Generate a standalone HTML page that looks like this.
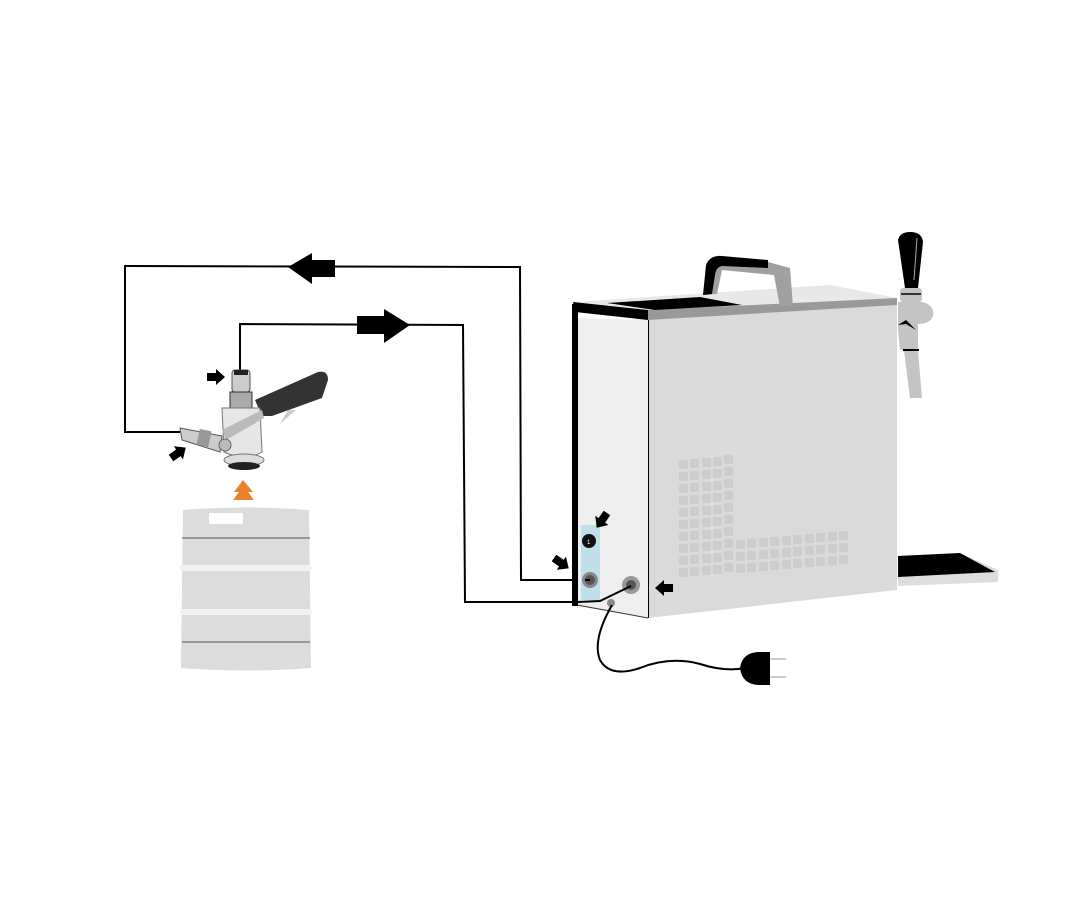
<!DOCTYPE html>
<html><head><meta charset="utf-8"><style>html,body{margin:0;padding:0;background:#fff}svg{display:block}</style></head>
<body>
<svg width="1080" height="900" viewBox="0 0 1080 900" xmlns="http://www.w3.org/2000/svg">
<defs>
<g id="sarr"><polygon points="0,-4 9,-4 9,-8 18,0 9,8 9,4 0,4" fill="#000"/></g>
<g id="col">
<rect x="0" y="0" width="9" height="9" rx="2"/><rect x="0" y="12" width="9" height="9" rx="2"/>
<rect x="0" y="24" width="9" height="9" rx="2"/><rect x="0" y="36" width="9" height="9" rx="2"/>
<rect x="0" y="48" width="9" height="9" rx="2"/><rect x="0" y="60" width="9" height="9" rx="2"/>
<rect x="0" y="72" width="9" height="9" rx="2"/><rect x="0" y="84" width="9" height="9" rx="2"/>
<rect x="0" y="96" width="9" height="9" rx="2"/><rect x="0" y="108" width="9" height="9" rx="2"/>
</g>
<g id="rows3">
<rect x="0" y="0" width="9" height="9" rx="2"/><rect x="0" y="12" width="9" height="9" rx="2"/><rect x="0" y="24" width="9" height="9" rx="2"/>
</g>
</defs>
<!-- pipes -->
<g fill="none" stroke="#000" stroke-width="2">
<polyline points="180,432 125,432 125,266 520,267 521,580 585,580"/>
<polyline points="240,372 240,324 463,325 465,602 578,602"/>
</g>
<polygon points="288,267 312,253 312,260 335,260 335,277 312,277 312,284" fill="#000"/>
<polygon points="410,325 384,309 384,316 357,316 357,334 384,334 384,343" fill="#000"/>

<!-- keg -->
<path d="M183,510 Q245,505 309,510 L311,668 Q245,673 181,668 Z" fill="#dcdcdc"/>
<rect x="209" y="513" width="34" height="11" rx="2" fill="#fff"/>
<rect x="182" y="537" width="128" height="2" fill="#999"/>
<rect x="180" y="565" width="132" height="6" rx="3" fill="#f2f2f2"/>
<rect x="180" y="609" width="132" height="6" rx="3" fill="#f2f2f2"/>
<rect x="182" y="641" width="128" height="2" fill="#999"/>
<polygon points="243,480 253,492 248,492 254,500 233,500 239,492 234,492" fill="#e8832a"/>

<!-- coupler -->
<g>
<path d="M255,400 L318,372 Q328,370 328,380 L322,398 L272,416 L262,416 Z" fill="#333"/>
<path d="M288,410 L280,424 L296,410 Z" fill="#ccc"/>
<rect x="232" y="370" width="18" height="22" rx="3" fill="#ccc" stroke="#555" stroke-width="1"/>
<rect x="234" y="370" width="14" height="5" fill="#222"/>
<rect x="230" y="392" width="22" height="16" fill="#aaa" stroke="#333" stroke-width="1"/>
<path d="M222,408 L260,408 L262,452 Q245,462 224,452 Z" fill="#e6e6e6" stroke="#777" stroke-width="1"/>
<path d="M222,430 L262,410 L264,418 L226,440 Z" fill="#bbb"/>
<path d="M180,428 L222,436 L220,452 L182,440 Z" fill="#ccc" stroke="#555" stroke-width="1"/>
<rect x="198" y="430" width="12" height="16" fill="#999" transform="rotate(12 204 438)"/>
<circle cx="225" cy="445" r="6" fill="#bbb" stroke="#666"/>
<ellipse cx="244" cy="460" rx="20" ry="6" fill="#ddd" stroke="#777"/>
<ellipse cx="244" cy="466" rx="16" ry="4" fill="#222"/>
</g>
<use href="#sarr" x="207" y="377"/>
<use href="#sarr" transform="translate(171,458) rotate(-35)"/>

<!-- drip tray -->
<polygon points="898,556 960,553 998,570 998,582 898,586" fill="#ddd"/>
<polygon points="898,556 960,553 995,572 898,577" fill="#000"/>
<!-- side -->
<polygon points="648,318 897,302 897,590 648,618" fill="#dadada"/>
<line x1="648" y1="320" x2="648" y2="618" stroke="#000" stroke-width="2"/>
<polygon points="576,318 648,320 648,618 577,606" fill="#efefef"/>
<line x1="648" y1="618" x2="577" y2="605" stroke="#333" stroke-width="1"/>
<rect x="572" y="304" width="6" height="302" fill="#000"/>
<!-- top -->
<polygon points="573,302 830,285 897,298 648,310" fill="#e8e8e8"/>
<polygon points="648,310 897,298 897,305 648,320" fill="#999"/>
<polygon points="573,302 648,310 648,320 575,312" fill="#000"/>
<polygon points="607,303 700,297 742,305 655,310" fill="#000"/>
<!-- handle -->
<path d="M703,295 L708,265 Q712,257 722,258 L768,262 L790,268 L793,306 L780,307 L774,275 L722,270 L717,294 Z" fill="#a0a0a0"/>
<path d="M703,295 L706,265 Q710,255 722,256 L768,260 L768,268 L722,266 Q716,267 715,275 L712,294 Z" fill="#000"/>
<!-- vents -->
<g fill="#cdcdcd">
<use href="#col" x="679" y="460"/><use href="#col" x="690" y="459"/><use href="#col" x="702" y="458"/>
<use href="#col" x="713" y="457"/><use href="#col" x="724" y="455"/>
<use href="#rows3" x="736" y="540"/><use href="#rows3" x="747" y="539"/><use href="#rows3" x="759" y="538"/>
<use href="#rows3" x="770" y="537"/><use href="#rows3" x="782" y="536"/><use href="#rows3" x="793" y="535"/>
<use href="#rows3" x="805" y="534"/><use href="#rows3" x="816" y="533"/><use href="#rows3" x="828" y="532"/>
<use href="#rows3" x="839" y="531"/>
</g>
<!-- back panel ports -->
<rect x="581" y="525" width="19" height="75" fill="#bfe0ea"/>
<circle cx="589" cy="541" r="7" fill="#111"/>
<text x="587" y="544" font-family="Liberation Sans, sans-serif" font-size="6" fill="#fff">1</text>
<circle cx="590" cy="580" r="8" fill="#888"/><circle cx="590" cy="580" r="5" fill="#555"/>
<circle cx="631" cy="585" r="9" fill="#999"/><circle cx="631" cy="585" r="5" fill="#555"/>
<circle cx="611" cy="603" r="4" fill="#888"/>
<polyline points="631,586 600,601 578,602" fill="none" stroke="#000" stroke-width="2"/>
<line x1="585" y1="580" x2="590" y2="580" stroke="#000" stroke-width="2"/>
<use href="#sarr" transform="translate(607,513) rotate(125)"/>
<use href="#sarr" transform="translate(554,558) rotate(35)"/>
<use href="#sarr" transform="translate(673,588) rotate(180)"/>
<!-- cord -->
<path d="M612,605 Q592,640 600,660 Q610,678 640,668 Q670,656 700,664 Q725,672 745,668" fill="none" stroke="#000" stroke-width="2"/>
<path d="M740,668 Q742,653 758,652 L770,652 L770,685 L758,685 Q742,684 740,668 Z" fill="#000"/>
<rect x="770" y="658" width="16" height="2" fill="#ccc"/><rect x="770" y="676" width="16" height="2" fill="#ccc"/>
<!-- tap -->
<path d="M898,240 Q900,232 910,232 Q922,232 923,242 L918,288 L905,288 Z" fill="#000"/>
<line x1="917" y1="238" x2="914" y2="280" stroke="#aaa" stroke-width="1"/>
<rect x="900" y="288" width="22" height="14" rx="3" fill="#c4c4c4"/>
<rect x="901" y="293" width="20" height="2" fill="#333"/>
<path d="M898,302 L922,302 Q935,305 933,316 Q930,324 918,324 L918,350 L900,350 L898,330 Z" fill="#c4c4c4"/>
<path d="M898,325 L906,320 L916,330 L906,324 Z" fill="#000"/>
<path d="M904,350 L918,350 L922,398 L910,398 Z" fill="#c4c4c4"/>
<rect x="903" y="349" width="16" height="2" fill="#000"/>
</svg>
</body></html>
